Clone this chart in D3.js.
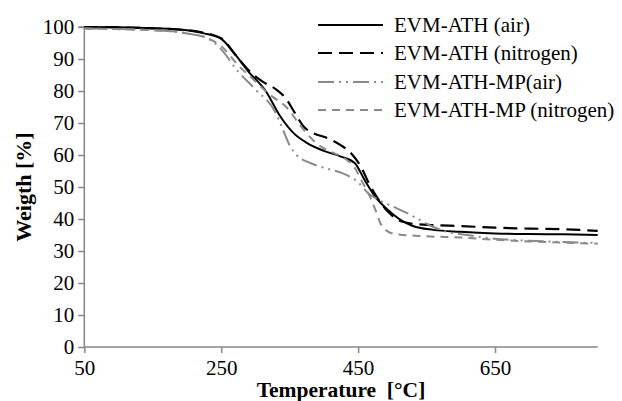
<!DOCTYPE html>
<html>
<head>
<meta charset="utf-8">
<script src="https://cdn.jsdelivr.net/npm/d3@7"></script>
<style>
  html, body { margin: 0; padding: 0; background: #fff; }
  svg { display: block; }
  svg text { font-family: "Times New Roman", Times, "Liberation Serif", Tinos, "Noto Serif", "DejaVu Serif", serif; }
</style>
</head>
<body>
<svg id="chart" width="622" height="401"></svg>
<script>
// ---- Data ----
const seriesNames = ["EVM-ATH (air)", "EVM-ATH (nitrogen)", "EVM-ATH-MP(air)", "EVM-ATH-MP (nitrogen)"];

const athAirT = [50, 100, 150, 200, 225, 250, 270, 290, 315, 335, 355, 375, 400, 425, 445, 460, 475, 490, 510, 530, 560, 600, 650, 700, 750, 800];
const athAirW = [100, 99.9, 99.6, 99, 98, 96.3, 91.5, 86, 80, 72.5, 67, 63.8, 61.3, 59.5, 57.5, 52, 47, 43.5, 40, 37.8, 36.6, 36, 35.5, 35.3, 35.2, 35];

const athN2T = [50, 150, 200, 250, 270, 290, 310, 330, 345, 358, 370, 385, 405, 425, 440, 455, 465, 480, 495, 510, 530, 560, 600, 650, 700, 750, 800];
const athN2W = [100, 99.6, 99, 96.5, 91.5, 86.5, 83, 80.5, 77.5, 73, 69, 66.8, 65.3, 63, 60.5, 56, 51.5, 46, 42, 39.5, 38.5, 38.1, 37.8, 37.3, 37, 36.8, 36.3];

const mpAirT = [50, 150, 200, 230, 250, 275, 300, 330, 340, 350, 360, 380, 400, 425, 440, 450, 465, 480, 500, 520, 540, 560, 580, 610, 650, 700, 750, 800];
const mpAirW = [99.5, 99, 98, 96.5, 93, 86, 80.5, 73, 68, 63, 60, 57.5, 56, 54.5, 53, 51.5, 48, 46, 44, 42, 39.7, 37.5, 36, 35, 33.8, 33.2, 32.8, 32.5];

const mpN2T = [50, 150, 200, 230, 250, 275, 300, 320, 345, 370, 390, 410, 430, 445, 455, 465, 475, 483, 492, 505, 550, 600, 650, 700, 750, 800];
const mpN2W = [99.5, 99, 98, 96.5, 94, 88, 83, 79, 75, 68, 63.5, 61, 59, 56, 52, 48, 43, 38.5, 36.3, 35.3, 34.6, 34.2, 33.5, 33, 32.6, 32.3];

const xTicks = [50, 250, 450, 650];
const yTicks = [0, 10, 20, 30, 40, 50, 60, 70, 80, 90, 100];
const xTitle = "Temperature  [°C]";
const yTitle = "Weigth [%]";

// ---- Styles ----
const styles = [
  { color: "#000000", width: 2, dash: null },
  { color: "#000000", width: 2.2, dash: "14,7" },
  { color: "#8a8a8a", width: 2, dash: "16,5,2,5,2,5" },
  { color: "#8a8a8a", width: 2, dash: "8,6" }
];

const seriesData = [
  athAirT.map((t, i) => ({ t, w: athAirW[i] })),
  athN2T.map((t, i) => ({ t, w: athN2W[i] })),
  mpAirT.map((t, i) => ({ t, w: mpAirW[i] })),
  mpN2T.map((t, i) => ({ t, w: mpN2W[i] }))
];

const svg = d3.select("#chart");
const mL = 84.3, mR = 597.7, mT = 27, mB = 347;
const fs = 21;
const fsTitle = 21.5;

const x = d3.scaleLinear().domain([50, 800]).range([mL, mR]);
const y = d3.scaleLinear().domain([0, 100]).range([mB, mT]);

const axisColor = "#868686";

// Y axis
const yAxis = svg.append("g")
  .attr("transform", `translate(${mL},0)`)
  .call(d3.axisLeft(y).tickValues(yTicks).tickSize(6).tickPadding(4).tickFormat(d3.format("d")));
// X axis
const xAxis = svg.append("g")
  .attr("transform", `translate(0,${mB})`)
  .call(d3.axisBottom(x).tickValues(xTicks).tickSize(6).tickPadding(7).tickFormat(d3.format("d")));

[yAxis, xAxis].forEach(g => {
  g.attr("font-family", null).attr("font-size", null);
  g.select(".domain").attr("stroke", axisColor).attr("stroke-width", 1.5);
  g.selectAll(".tick line").attr("stroke", axisColor).attr("stroke-width", 1.5);
  g.selectAll(".tick text").attr("fill", "#000").attr("font-size", fs);
});
yAxis.select(".domain").attr("d", `M-6,${mT}H0V${mB}`);
xAxis.select(".domain").attr("d", `M${mL},0H${mR}`);

// Lines
const line = d3.line().x(d => x(d.t)).y(d => y(d.w)).curve(d3.curveMonotoneX);
seriesData.forEach((data, i) => {
  svg.append("path")
    .datum(data)
    .attr("fill", "none")
    .attr("stroke", styles[i].color)
    .attr("stroke-width", styles[i].width)
    .attr("stroke-dasharray", styles[i].dash)
    .attr("d", line);
});

// Titles
svg.append("text")
  .attr("x", (mL + mR) / 2).attr("y", 396.5)
  .attr("text-anchor", "middle")
  .attr("font-size", fsTitle).attr("font-weight", "bold")
  .style("white-space", "pre")
  .text(xTitle);

svg.append("text")
  .attr("transform", `translate(31,${(mT + mB) / 2}) rotate(-90)`)
  .attr("text-anchor", "middle")
  .attr("font-size", 22).attr("font-weight", "bold")
  .text(yTitle);

// Legend
const legendX1 = 318, legendX2 = 383, legendTextX = 394;
const legendY = [25, 53, 82, 110];
seriesNames.forEach((name, i) => {
  svg.append("line")
    .attr("x1", legendX1).attr("x2", legendX2)
    .attr("y1", legendY[i]).attr("y2", legendY[i])
    .attr("stroke", styles[i].color)
    .attr("stroke-width", styles[i].width)
    .attr("stroke-dasharray", styles[i].dash);
  svg.append("text")
    .attr("x", legendTextX).attr("y", legendY[i])
    .attr("dy", "0.35em")
    .attr("font-size", fs)
    .text(name);
});
</script>
</body>
</html>
